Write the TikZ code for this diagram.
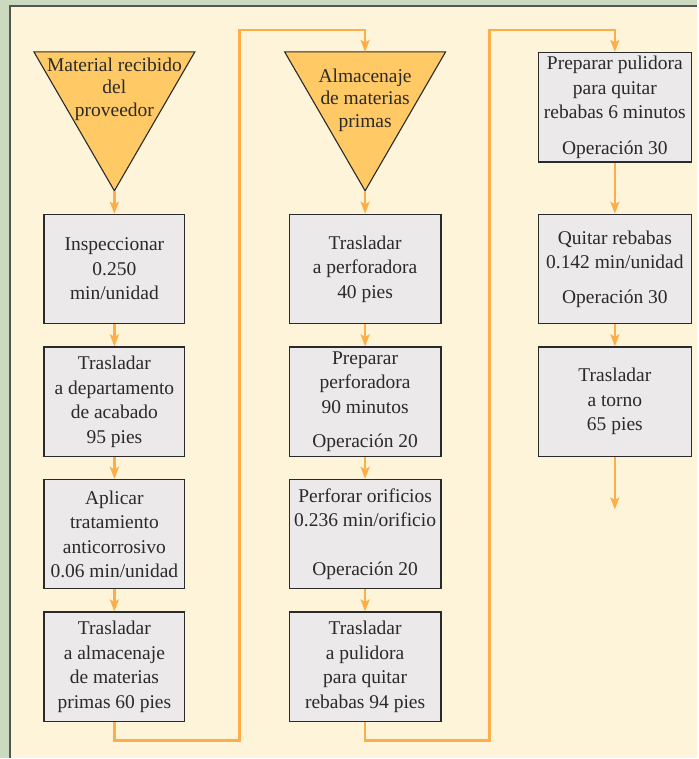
\documentclass[tikz,border=0pt]{standalone}
\usepackage{fontspec}
\setmainfont{Liberation Serif}
\usepackage{xcolor}
\usetikzlibrary{arrows.meta, positioning, calc}
\definecolor{outergreen}{HTML}{CBDABF}
\definecolor{panelcream}{HTML}{FEF4D9}
\definecolor{boxgray}{HTML}{EBE9EA}
\definecolor{triorange}{HTML}{FFC966}
\definecolor{floworange}{HTML}{FDAE48}
\definecolor{inkgray}{HTML}{2A2A2A}
\tikzset{
    box/.style={rectangle, draw=inkgray, line width=1.2pt, fill=boxgray, minimum height=109.5pt, inner sep=2pt, align=center, text=inkgray, font=\rmfamily\fontsize{19.5}{24.5}\selectfont},
    boxa/.style={box, minimum width=141pt},
    boxb/.style={box, minimum width=152pt},
    boxc/.style={box, minimum width=153pt},
    tri/.style={fill=triorange, draw=inkgray, line width=1.1pt, line join=miter},
    trilabel/.style={align=center, text=inkgray, inner sep=0pt, font=\rmfamily\fontsize{19.5}{22.5}\selectfont},
    flow/.style={draw=floworange, line width=2.6pt, -{Stealth[length=12pt,width=9pt,inset=2.5pt]}}
}

\begin{document}
\begin{tikzpicture}[x=1pt, y=-1pt, node distance=22pt]
    % background panel
    \fill[outergreen] (0,0) rectangle (698,759);
    \fill[panelcream] (10,6) rectangle (698,759);
    \draw[inkgray!80, line width=1.6pt] (10,759) -- (10,6) -- (698,6);

    % column 1
    \draw[tri] (34,52) -- (195,52) -- (114.5,191) -- cycle;
    \coordinate (recibido-apex) at (114.5,191);
    \node[trilabel] (recibido) at (114.5,89) {Material recibido\\del\\proveedor};
    \node[boxa, anchor=north] (inspec) at (114.5,214) {Inspeccionar\\0.250\\min/unidad};
    \node[boxa, below=of inspec] (tracab) {Trasladar\\a departamento\\de acabado\\95 pies};
    \node[boxa, below=of tracab] (anticor) {Aplicar\\tratamiento\\anticorrosivo\\0.06 min/unidad};
    \node[boxa, below=of anticor] (tralmac) {Trasladar\\a almacenaje\\de materias\\primas 60 pies};

    % column 2
    \draw[tri] (285,52) -- (446,52) -- (365.5,191) -- cycle;
    \coordinate (almacen-top) at (365.5,52);
    \coordinate (almacen-apex) at (365.5,191);
    \node[trilabel] (almacen) at (365.5,100) {Almacenaje\\de materias\\primas};
    \node[boxb, anchor=north] (traperf) at (365.5,214) {Trasladar\\a perforadora\\40 pies};
    \node[boxb, below=of traperf] (prepperf) {Preparar\\perforadora\\90 minutos\\[10pt]Operación 20};
    \node[boxb, below=of prepperf] (perforar) {Perforar orificios\\0.236 min/orificio\\[24.5pt]Operación 20};
    \node[boxb, below=of perforar] (trapul) {Trasladar\\a pulidora\\para quitar\\rebabas 94 pies};

    % column 3
    \node[boxc, anchor=north] (preppul) at (615.5,52) {Preparar pulidora\\para quitar\\rebabas 6 minutos\\[11pt]Operación 30};
    \node[boxc, anchor=north] (quitar) at (615.5,214) {Quitar rebabas\\0.142 min/unidad\\[10pt]Operación 30};
    \node[boxc, below=of quitar] (tratorno) {Trasladar\\a torno\\65 pies};
    \coordinate (salida) at (615.5,510);

    % lanes between columns
    \coordinate (lane1-low) at (240,741);
    \coordinate (lane1-high) at (240,30);
    \coordinate (lane2-low) at (490,741);
    \coordinate (lane2-high) at (490,30);

    \draw[flow] (recibido-apex) -- (inspec);
    \draw[flow] (inspec) -- (tracab);
    \draw[flow] (tracab) -- (anticor);
    \draw[flow] (anticor) -- (tralmac);
    \draw[flow] (tralmac.south) |- (lane1-low) -- (lane1-high) -| (almacen-top);

    \draw[flow] (almacen-apex) -- (traperf);
    \draw[flow] (traperf) -- (prepperf);
    \draw[flow] (prepperf) -- (perforar);
    \draw[flow] (perforar) -- (trapul);
    \draw[flow] (trapul.south) |- (lane2-low) -- (lane2-high) -| (preppul.north);

    \draw[flow] (preppul) -- (quitar);
    \draw[flow] (quitar) -- (tratorno);
    \draw[flow] (tratorno) -- (salida);
\end{tikzpicture}
\end{document}
